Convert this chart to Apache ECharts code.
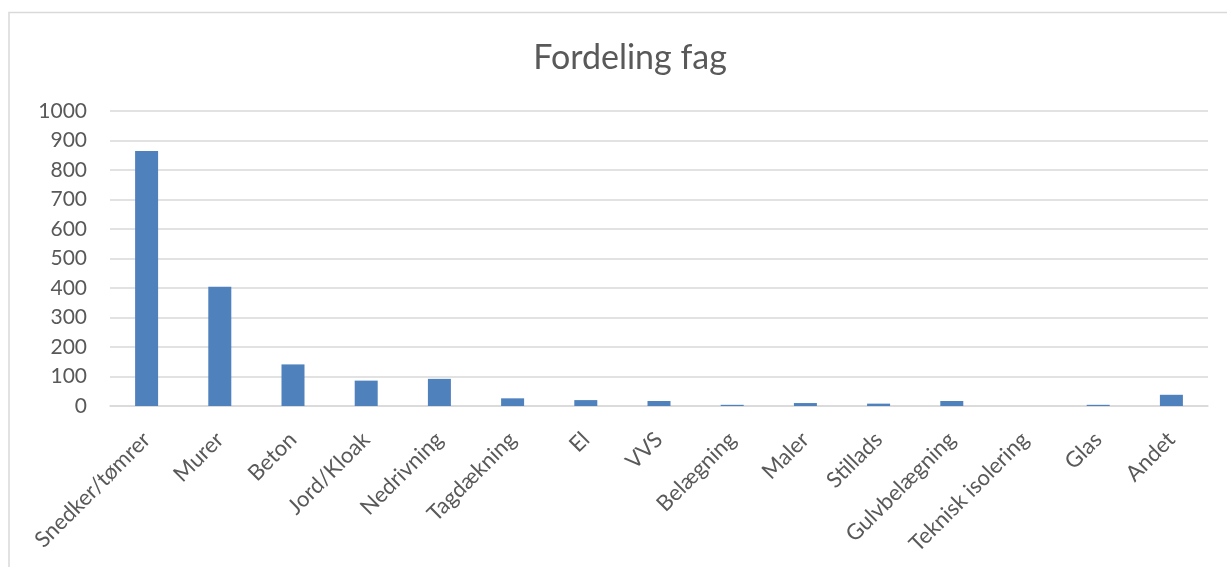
<!DOCTYPE html>
<html>
<head>
<meta charset="utf-8">
<script src="https://cdn.jsdelivr.net/npm/echarts@6/dist/echarts.min.js"></script>
<style>
  html, body { margin: 0; padding: 0; background: #fff; }
  #main { width: 1227px; height: 567px; }
</style>
</head>
<body>
<div id="main"></div>
<script>
const categories = [
  "Snedker/tømrer", "Murer", "Beton", "Jord/Kloak", "Nedrivning",
  "Tagdækning", "El", "VVS", "Belægning", "Maler",
  "Stillads", "Gulvbelægning", "Teknisk isolering", "Glas", "Andet"
];
const values = [864, 404, 141, 86, 92, 26, 20, 17, 4, 10, 8, 17, 0, 4, 38];
const yTicks = { min: 0, max: 1000, interval: 100 };

const chartDom = document.getElementById("main");
const myChart = echarts.init(chartDom);

const textColor = "#595959";
const font = "Lato, 'Noto Sans', sans-serif";

const option = {
  animation: false,
  textStyle: { fontFamily: font },
  title: {
    text: "Fordeling fag",
    left: 625,
    top: 36,
    textAlign: "center",
    textStyle: { fontSize: 34, fontWeight: "normal", color: textColor, fontFamily: font },
  },
  graphic: [
    {
      type: "rect",
      shape: { x: 9, y: 12.5, width: 1240, height: 600 },
      style: { fill: "none", stroke: "#d9d9d9", lineWidth: 1.5 },
      silent: true,
    },
  ],
  grid: { left: 110, right: 19, top: 111, bottom: 161, outerBoundsMode: "none" },
  xAxis: {
    type: "category",
    data: categories,
    axisLine: { lineStyle: { color: "#d9d9d9", width: 1.5 } },
    axisTick: { show: false },
    axisLabel: {
      interval: 0,
      rotate: 45,
      margin: 30,
      fontSize: 22,
      color: textColor,
      fontFamily: font,
    },
  },
  yAxis: {
    type: "value",
    min: yTicks.min,
    max: yTicks.max,
    interval: yTicks.interval,
    axisLine: { show: false },
    axisTick: { show: false },
    splitLine: { lineStyle: { color: "#d9d9d9", width: 1.5 } },
    axisLabel: {
      fontSize: 21,
      color: textColor,
      margin: 23,
      fontFamily: font,
      formatter: (v) => String(v),
    },
  },
  series: [
    {
      type: "bar",
      data: values,
      barWidth: 23,
      itemStyle: { color: "#4f81bd" },
    },
  ],
};

option && myChart.setOption(option);
</script>
</body>
</html>
